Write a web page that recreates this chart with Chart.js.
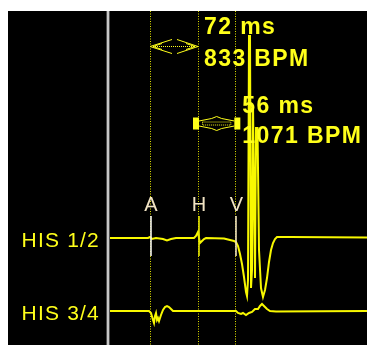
<!DOCTYPE html>
<html>
<head>
<meta charset="utf-8">
<script src="https://cdn.jsdelivr.net/npm/chart.js@4/dist/chart.umd.min.js"></script>
<style>
  html, body { margin: 0; padding: 0; background: #ffffff; }
  canvas { display: block; }
</style>
</head>
<body>
<canvas id="egm" width="367" height="345"></canvas>
<script>
// Intracardiac His-bundle recording: two bipolar channels, time in ms, amplitude in mV.
const channelNames = ['HIS 1/2', 'HIS 3/4'];
const channelOffsets = [0, -7.3];          // vertical placement of each channel baseline (mV)

const his12Time = [0, 57, 60, 63, 69, 79.5, 85.5, 91.5, 99, 126, 129, 132, 133.5, 135, 138, 141, 144,
  171, 180, 186, 189, 192, 195, 198, 201, 204, 205.5, 207, 208.5, 210, 211.5, 213, 214.5, 217.5,
  219, 221.25, 223.5, 226.5, 229.5, 232.5, 235.5, 238.5, 241.5, 244.5, 247.5, 250.5, 270, 385.5];
const his12Mv = [0, 0, 0.1, -0.1, 0, -0.1, -0.25, -0.1, 0, 0, 0.2, 0.6, 0, -0.5, -0.3, -0.1, 0,
  -0.05, -0.2, -0.3, -0.4, -0.8, -1.6, -2.6, -3.9, -5.4, -5.8, -4.2, 20.2, 20.2, -5.0, -3.2, 13.3, -4.0,
  11.0, 11.0, -1.2, -5.0, -5.9, -5.2, -4.0, -2.4, -1.2, -0.5, -0.1, 0.1, 0.1, 0.05];

const his34Time = [0, 58.5, 61.5, 64.5, 66, 67.5, 69, 70.5, 72, 73.5, 76.5, 79.5, 82.5, 85.5, 88.5, 91.5, 94.5,
  189, 192, 196.5, 199.5, 204, 208.5, 213, 217.5, 222, 225, 228, 231, 235.5, 240, 249, 385.5];
const his34Mv = [0, 0, -0.2, -0.9, -1.2, -0.5, -0.2, -0.9, -0.7, -1.0, -0.4, 0.1, 0.4, 0.5, 0.4, 0.2, 0,
  0, -0.2, -0.3, -0.2, -0.4, -0.2, -0.1, 0.2, 0.2, 0.5, 0.7, 0.5, 0.2, 0, -0.05, 0];

// Annotated activation times (atrial, His, ventricular)
const markerLabels = ['A', 'H', 'V'];
const markerTimes = [60, 132, 188];

const TRACE = '#f8f800';
const TEXT_YELLOW = '#ffff1a';

function series(times, values, offset) {
  return times.map((t, i) => ({ x: t, y: values[i] + offset }));
}

const ecgDecor = {
  id: 'ecgDecor',
  beforeDraw(chart) {
    const ctx = chart.ctx;
    ctx.save();
    ctx.fillStyle = '#ffffff';
    ctx.fillRect(0, 0, chart.width, chart.height);
    ctx.fillStyle = '#000000';
    ctx.fillRect(8, 11, chart.width - 8, chart.height - 11);
    ctx.restore();
  },
  beforeDatasetsDraw(chart) {
    const ctx = chart.ctx, a = chart.chartArea, xs = chart.scales.x;
    ctx.save();
    // separator between channel names and traces
    ctx.fillStyle = '#9a9a9a';
    ctx.fillRect(106.5, a.top, 3, a.bottom - a.top);
    ctx.fillStyle = '#f4f4f4';
    ctx.fillRect(107.5, a.top, 1, a.bottom - a.top);
    // dotted marker lines
    ctx.strokeStyle = '#e0e000';
    ctx.lineWidth = 1;
    ctx.setLineDash([1, 1.5]);
    markerTimes.forEach(t => {
      const x = Math.round(xs.getPixelForValue(t)) + 0.5;
      ctx.beginPath();
      ctx.moveTo(x, a.top);
      ctx.lineTo(x, a.bottom);
      ctx.stroke();
    });
    ctx.restore();
  },
  afterDatasetsDraw(chart) {
    const ctx = chart.ctx, xs = chart.scales.x, ys = chart.scales.y;
    const px = markerTimes.map(t => xs.getPixelForValue(t));
    ctx.save();

    // solid ticks where each marker crosses HIS 1/2
    const base12 = ys.getPixelForValue(channelOffsets[0]);
    const tickColors = ['#f4f4ee', '#e8e800', '#efe2bf'];
    px.forEach((x, i) => {
      ctx.strokeStyle = tickColors[i];
      ctx.lineWidth = 1.6;
      ctx.beginPath();
      ctx.moveTo(Math.round(x) + 1, base12 - 22);
      ctx.lineTo(Math.round(x) + 1, base12 + 18);
      ctx.stroke();
    });

    // marker letters
    ctx.fillStyle = '#f2e4c4';
    ctx.font = '20px "Liberation Sans", Arial, sans-serif';
    ctx.textAlign = 'center';
    ctx.textBaseline = 'alphabetic';
    markerLabels.forEach((m, i) => ctx.fillText(m, px[i] + 1, 211));

    // channel names
    ctx.fillStyle = TEXT_YELLOW;
    ctx.font = '21px "Liberation Sans", Arial, sans-serif';
    ctx.textAlign = 'right';
    ctx.letterSpacing = '1.2px';
    channelNames.forEach((name, i) => {
      const y = ys.getPixelForValue(channelOffsets[i]);
      ctx.fillText(name, 100, y + 9);
    });

    // interval calipers
    ctx.letterSpacing = '0px';
    ctx.strokeStyle = TEXT_YELLOW;
    ctx.fillStyle = TEXT_YELLOW;
    ctx.lineWidth = 1;
    // A-H caliper: open double arrow
    const y1 = 46.5, xa = px[0], xh = px[1], xv = px[2];
    const midAH = (xa + xh) / 2;
    ctx.beginPath();
    ctx.moveTo(midAH - 2, y1 - 7); ctx.lineTo(xa, y1); ctx.lineTo(midAH - 2, y1 + 7);
    ctx.moveTo(midAH + 3, y1 - 7); ctx.lineTo(xh, y1); ctx.lineTo(midAH + 3, y1 + 7);
    ctx.moveTo(xa + 12, y1 - 3); ctx.lineTo(xa + 3, y1); ctx.lineTo(xa + 12, y1 + 3);
    ctx.moveTo(xh - 12, y1 - 3); ctx.lineTo(xh - 3, y1); ctx.lineTo(xh - 12, y1 + 3);
    ctx.stroke();
    ctx.setLineDash([1, 1]);
    ctx.beginPath();
    ctx.moveTo(xa + 3, y1); ctx.lineTo(xh - 3, y1);
    ctx.stroke();
    ctx.setLineDash([]);

    // H-V caliper: block ends with a flattened hexagon
    const y2 = 123.5;
    const midHV = (xh + xv) / 2;
    ctx.fillRect(xh - 5, y2 - 6, 6, 12);
    ctx.fillRect(xv - 1, y2 - 6, 6, 12);
    ctx.beginPath();
    ctx.moveTo(xh + 1, y2 - 2.5);
    ctx.lineTo(midHV - 5, y2 - 5);
    ctx.lineTo(midHV, y2 - 7);
    ctx.lineTo(midHV + 5, y2 - 5);
    ctx.lineTo(xv - 1, y2 - 2.5);
    ctx.moveTo(xh + 1, y2 + 2.5);
    ctx.lineTo(midHV - 5, y2 + 5);
    ctx.lineTo(midHV, y2 + 7);
    ctx.lineTo(midHV + 5, y2 + 5);
    ctx.lineTo(xv - 1, y2 + 2.5);
    ctx.stroke();
    ctx.setLineDash([1, 1]);
    ctx.strokeRect(xh + 4.5, y2 - 1.5, xv - xh - 9, 3);
    ctx.setLineDash([]);

    // interval readouts
    const ah = markerTimes[1] - markerTimes[0];
    const hv = markerTimes[2] - markerTimes[1];
    ctx.font = 'bold 23px "Liberation Sans", Arial, sans-serif';
    ctx.textAlign = 'left';
    ctx.letterSpacing = '1.4px';
    ctx.fillText(ah + ' ms', xh + 6, 33.5);
    ctx.fillText(Math.round(60000 / ah) + ' BPM', xh + 6, 66);
    ctx.fillText(hv + ' ms', xv + 7, 112.5);
    ctx.fillText(Math.round(60000 / hv) + ' BPM', xv + 7, 142.5);
    ctx.restore();
  }
};

new Chart(document.getElementById('egm'), {
  type: 'line',
  data: {
    datasets: [
      { label: channelNames[0], data: series(his12Time, his12Mv, channelOffsets[0]) },
      { label: channelNames[1], data: series(his34Time, his34Mv, channelOffsets[1]) }
    ].map(d => Object.assign(d, {
      borderColor: TRACE, borderWidth: 2, pointRadius: 0, tension: 0, fill: false
    }))
  },
  options: {
    responsive: false,
    animation: false,
    devicePixelRatio: 1,
    layout: { padding: { left: 110, top: 11, right: 0, bottom: 0 } },
    plugins: { legend: { display: false }, tooltip: { enabled: false } },
    scales: {
      x: { type: 'linear', min: 0, max: 385.5, display: false },
      y: { min: -10.7, max: 22.7, display: false }
    }
  },
  plugins: [ecgDecor]
});
</script>
</body>
</html>
